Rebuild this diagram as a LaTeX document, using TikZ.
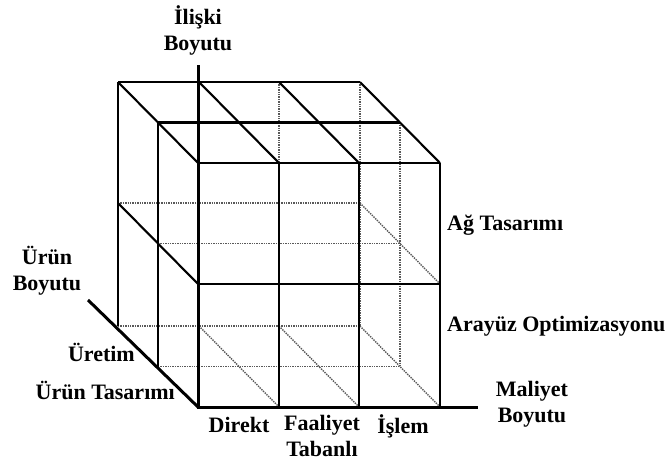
\documentclass[tikz,border=0pt]{standalone}
\usepackage{fontspec}
\setmainfont{Liberation Serif}
\usepackage{tikz}
\usetikzlibrary{positioning,calc}

\begin{document}
\begin{tikzpicture}[x=1pt,y=-1pt,
    axisline/.style={line width=3pt},
    gridline/.style={line width=2.1pt},
    hiddenline/.style={line width=1.4pt, densely dotted, black!65},
    lbl/.style={font=\fontsize{22}{26}\selectfont\bfseries, inner sep=0pt, align=center}]
    \useasboundingbox (0,0) rectangle (665,466);

    % axes
    \coordinate (origin) at (198,407);
    \coordinate (reltop) at (198,65);
    \coordinate (costend) at (478,407);
    \coordinate (prodend) at (88,300);

    % hidden (dotted) lines of the back layers
    \foreach \x in {279,360}
      \draw[hiddenline] (\x,82) -- (\x,326);
    \draw[hiddenline] (400,122.5) -- (400,366.5);
    \foreach \y in {203,326}
      \draw[hiddenline] (118,\y) -- (360,\y);
    \foreach \y in {243.5,366.5}
      \draw[hiddenline] (158,\y) -- (400,\y);
    \draw[hiddenline] (360,203) -- (440,284);
    \foreach \x in {199,279,360}
      \draw[hiddenline] (\x,326) -- ++(80,81);

    % left face
    \draw[gridline] (118,82) -- (118,326);
    \draw[gridline] (158,122.5) -- (158,366.5);
    \draw[gridline] (118,203) -- (198,284);

    % top face
    \draw[gridline] (118,82) -- (360,82);
    \draw[gridline] (158,122.5) -- (400,122.5);
    \foreach \x in {198,279,359,440}
      \draw[gridline] (\x-80,82) -- (\x,163);

    % front face
    \foreach \x in {279,359,440}
      \draw[gridline] (\x,163) -- (\x,407);
    \foreach \y in {163,284}
      \draw[gridline] (198,\y) -- (440,\y);

    \draw[axisline] (reltop) -- (origin) -- (costend);
    \draw[axisline] (prodend) -- (origin);

    % labels
    \node[lbl] (rel) at (198,30) {İlişki\\Boyutu};
    \node[lbl] (prod) at (47,271) {Ürün\\Boyutu};
    \node[lbl, anchor=east] (uretim) at (135,352) {Üretim};
    \node[lbl, anchor=east] (urtas) at (175,390) {Ürün Tasarımı};
    \node[lbl] (cost) at (532,404) {Maliyet\\Boyutu};
    \node[lbl, anchor=west] (ag) at (447,225) {Ağ Tasarımı};
    \node[lbl, anchor=west] (arayuz) at (447,326) {Arayüz Optimizasyonu};
    \node[lbl] (direkt) at (239,425) {Direkt};
    \node[lbl, anchor=north] (faal) at (322,415) {Faaliyet\\Tabanlı};
    \node[lbl] (islem) at (403,426) {İşlem};
\end{tikzpicture}
\end{document}
